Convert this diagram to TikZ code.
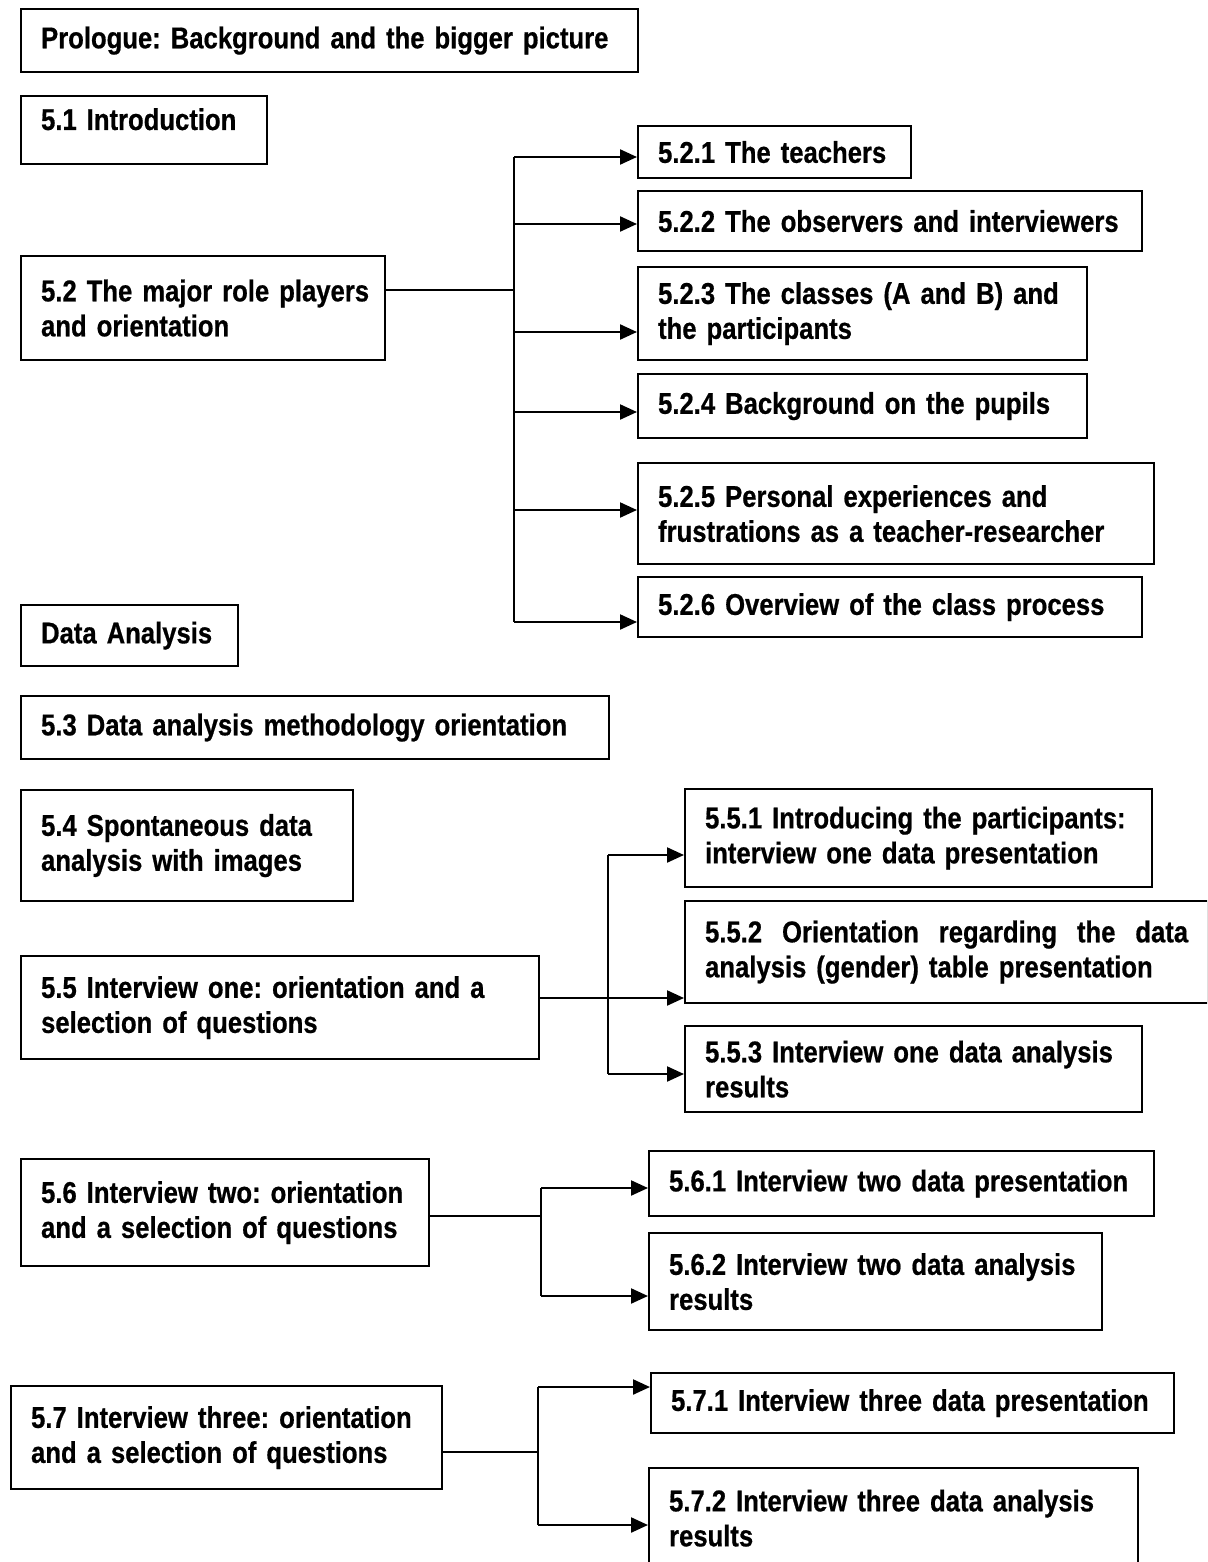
\documentclass[tikz,border=0pt]{standalone}
\usepackage{fontspec}
\setmainfont{Liberation Sans}[FakeStretch=0.855,BoldFeatures={FakeBold=0.6}]
\usetikzlibrary{arrows.meta}
\tikzset{
  box/.style={draw, line width=2.2pt, inner xsep=20pt, inner ysep=0pt, align=left,
    anchor=north west, font=\bfseries\fontsize{30}{35}\selectfont\frenchspacing},
  conn/.style={line width=2.2pt},
  arr/.style={line width=2.2pt, -{Triangle[length=17pt,width=15pt]}}
}
\begin{document}
\begin{tikzpicture}[x=1pt,y=-1pt]
\useasboundingbox (0,0) rectangle (1207,1562);
\fill[white] (0,0) rectangle (1207,1562);
\clip (0,0) rectangle (1207,1562);
% left column
\node[box, text width=577pt, minimum height=63pt] (pro) at (20,8) {\mbox{Prologue: Background and the bigger picture}};
\node[box, text width=206pt, minimum height=68pt, text depth=22pt] (intro) at (20,95) {\mbox{5.1 Introduction}};
\node[box, text width=324pt, minimum height=104pt] (role) at (20,255) {\mbox{5.2 The major role players}\\\mbox{and orientation}};
\node[box, text width=177pt, minimum height=61pt] (da) at (20,604) {\mbox{Data Analysis}};
\node[box, text width=548pt, minimum height=63pt] (m53) at (20,695) {\mbox{5.3 Data analysis methodology orientation}};
\node[box, text width=292pt, minimum height=111pt] (m54) at (20,789) {\mbox{5.4 Spontaneous data}\\\mbox{analysis with images}};
\node[box, text width=478pt, minimum height=103pt] (m55) at (20,955) {\mbox{5.5 Interview one: orientation and a}\\\mbox{selection of questions}};
\node[box, text width=368pt, minimum height=107pt] (m56) at (20,1158) {\mbox{5.6 Interview two: orientation}\\\mbox{and a selection of questions}};
\node[box, text width=391pt, minimum height=103pt] (m57) at (10,1385) {\mbox{5.7 Interview three: orientation}\\\mbox{and a selection of questions}};
% right column, 5.2.x
\node[box, text width=233pt, minimum height=52pt] (t1) at (637,125) {\mbox{5.2.1 The teachers}};
\node[box, text width=464pt, minimum height=60pt] (t2) at (637,190) {\mbox{5.2.2 The observers and interviewers}};
\node[box, text width=409pt, minimum height=93pt] (t3) at (637,266) {\mbox{5.2.3 The classes (A and B) and}\\\mbox{the participants}};
\node[box, text width=409pt, minimum height=64pt] (t4) at (637,373) {\mbox{5.2.4 Background on the pupils}};
\node[box, text width=476pt, minimum height=101pt] (t5) at (637,462) {\mbox{5.2.5 Personal experiences and}\\\mbox{frustrations as a teacher-researcher}};
\node[box, text width=464pt, minimum height=60pt] (t6) at (637,576) {\mbox{5.2.6 Overview of the class process}};
% 5.5.x
\node[box, text width=427pt, minimum height=98pt] (s1) at (684,788) {\mbox{5.5.1 Introducing the participants:}\\\mbox{interview one data presentation}};
\node[box, text width=483pt, minimum height=102pt] (s2) at (684,900) {\makebox[483pt][l]{5.5.2\hfill Orientation\hfill regarding\hfill the\hfill data}\\\mbox{analysis (gender) table presentation}};
\node[box, text width=417pt, minimum height=86pt] (s3) at (684,1025) {\mbox{5.5.3 Interview one data analysis}\\\mbox{results}};
% 5.6.x
\node[box, text width=465pt, minimum height=65pt] (u1) at (648,1150) {\mbox{5.6.1 Interview two data presentation}};
\node[box, text width=413pt, minimum height=97pt] (u2) at (648,1232) {\mbox{5.6.2 Interview two data analysis}\\\mbox{results}};
% 5.7.x
\node[box, text width=483pt, minimum height=60pt] (v1) at (650,1372) {\mbox{5.7.1 Interview three data presentation}};
\node[box, text width=449pt, minimum height=100pt] (v2) at (648,1467) {\mbox{5.7.2 Interview three data analysis}\\\mbox{results}};
% connectors 5.2
\coordinate (j2) at (514,290);
\draw[conn] (role.east |- j2) -- (j2);
\draw[conn] (j2 |- 0,157) -- (j2 |- 0,622);
\foreach \n/\yy in {t1/157,t2/224,t3/332,t4/412,t5/510,t6/622}
  \draw[arr] (j2 |- 0,\yy) -- (\n.west |- 0,\yy);
% connectors 5.5
\coordinate (j5) at (608,998);
\draw[arr] (m55.east |- j5) -- (s2.west |- j5);
\draw[conn] (j5 |- 0,855) -- (j5 |- 0,1074);
\draw[arr] (j5 |- 0,855) -- (s1.west |- 0,855);
\draw[arr] (j5 |- 0,1074) -- (s3.west |- 0,1074);
% connectors 5.6
\coordinate (j6) at (541,1216);
\draw[conn] (m56.east |- j6) -- (j6);
\draw[conn] (j6 |- 0,1188) -- (j6 |- 0,1296);
\draw[arr] (j6 |- 0,1188) -- (u1.west |- 0,1188);
\draw[arr] (j6 |- 0,1296) -- (u2.west |- 0,1296);
% connectors 5.7
\coordinate (j7) at (538,1452);
\draw[conn] (m57.east |- j7) -- (j7);
\draw[conn] (j7 |- 0,1387) -- (j7 |- 0,1525);
\draw[arr] (j7 |- 0,1387) -- (v1.west |- 0,1387);
\draw[arr] (j7 |- 0,1525) -- (v2.west |- 0,1525);
\end{tikzpicture}
\end{document}
